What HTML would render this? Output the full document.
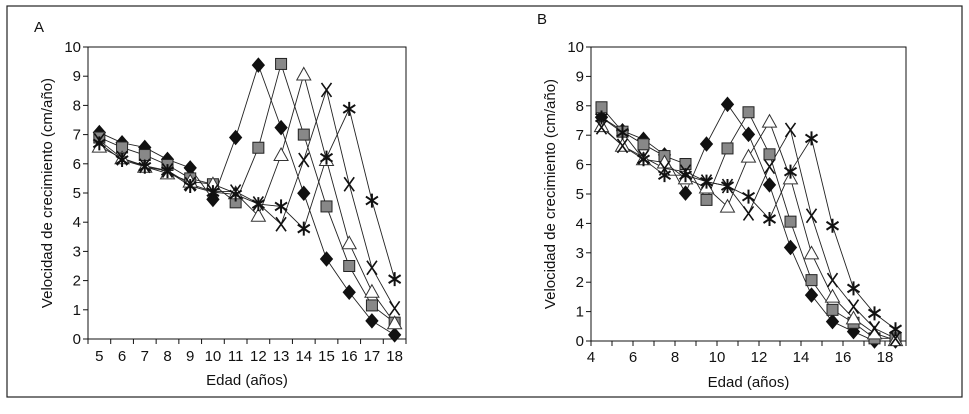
<!DOCTYPE html>
<html><head><meta charset="utf-8"><style>
body{margin:0;background:#fff;}
svg text{font-family:"Liberation Sans",Arial,sans-serif;fill:#111;}
</style></head><body>
<svg id="c" width="969" height="409" viewBox="0 0 969 409" xmlns="http://www.w3.org/2000/svg">
<rect x="7" y="6" width="955" height="391" fill="none" stroke="#222" stroke-width="1.2"/>
</svg>
<script>
const ticksY = [0,1,2,3,4,5,6,7,8,9,10];
const agesA = [5,6,7,8,9,10,11,12,13,14,15,16,17,18];
const diamondA = [7.07,6.72,6.56,6.15,5.86,4.78,6.9,9.38,7.24,4.99,2.74,1.6,0.62,0.14];
const squareA = [6.9,6.56,6.3,5.96,5.5,5.3,4.68,6.55,9.42,7.0,4.54,2.5,1.15,0.56];
const triangleA = [6.59,6.19,5.9,5.67,5.39,5.3,4.99,4.22,6.3,9.06,6.13,3.28,1.62,0.54];
const crossA = [6.8,6.19,5.93,5.77,5.3,5.05,5.05,4.64,3.93,6.13,8.53,5.3,2.44,1.05];
const starA = [6.7,6.13,5.9,5.75,5.24,5.03,4.95,4.62,4.54,3.78,6.21,7.88,4.74,2.05];
const agesB = [4.5,5.5,6.5,7.5,8.5,9.5,10.5,11.5,12.5,13.5,14.5,15.5,16.5,17.5,18.5];
const ticksXB = [4,6,8,10,12,14,16,18];
const diamondB = [7.61,7.15,6.86,6.33,5.03,6.7,8.05,7.03,5.31,3.18,1.56,0.66,0.32,0.0,0.0];
const squareB = [7.95,7.12,6.69,6.29,6.02,4.8,6.55,7.78,6.35,4.06,2.07,1.06,0.62,0.09,0.09];
const triangleB = [7.31,6.64,6.18,6.07,5.53,5.22,4.57,6.27,7.46,5.53,2.98,1.51,0.77,0.26,0.03];
const crossB = [7.27,6.64,6.25,5.87,5.76,5.42,5.27,4.34,5.93,7.18,4.26,2.07,1.17,0.43,0.09];
const starB = [7.6,7.09,6.18,5.64,5.64,5.42,5.27,4.91,4.15,5.76,6.89,3.92,1.79,0.94,0.4];

const svg = document.getElementById('c');
const NS = 'http://www.w3.org/2000/svg';
function mk(tag, attrs, parent){const e=document.createElementNS(NS,tag);for(const k in attrs)e.setAttribute(k,attrs[k]);(parent||svg).appendChild(e);return e;}

function marker(g, kind, x, y){
  let e;
  if(kind==='diamond'){e=mk('polygon',{points:`${x},${y-7} ${x+6},${y} ${x},${y+7} ${x-6},${y}`,fill:'#111',stroke:'#111'},g);}
  else if(kind==='square'){e=mk('rect',{x:x-5.5,y:y-5.5,width:11,height:11,fill:'#888',stroke:'#222','stroke-width':1},g);}
  else if(kind==='triangle'){e=mk('polygon',{points:`${x},${y-7} ${x+7},${y+5.5} ${x-7},${y+5.5}`,fill:'#fff',stroke:'#333','stroke-width':1},g);}
  else if(kind==='cross'){e=mk('path',{d:`M${x-5},${y-7}L${x+5},${y+7}M${x+5},${y-7}L${x-5},${y+7}`,stroke:'#111','stroke-width':1.6,fill:'none'},g);}
  else {e=mk('path',{d:`M${x},${y-7}L${x},${y+7}M${x-6},${y-4}L${x+6},${y+4}M${x+6},${y-4}L${x-6},${y+4}`,stroke:'#111','stroke-width':2,fill:'none'},g);}
  
  
}

function panel(opt){
  const {L,T,R,B,xs,series,xFn,letter,lx,ly,ylx} = opt;
  const yS = v => B - v*(B-T)/10;
  const g = mk('g',{});
  
  
  const lt = mk('text',{x:lx,y:ly,'font-size':15},g); lt.textContent=letter;
  
  
  const fr = mk('rect',{x:L,y:T,width:R-L,height:B-T,fill:'none',stroke:'#111','stroke-width':1},g);
  
  
  ticksY.forEach(v=>{
    const y=yS(v);
    mk('line',{x1:L-5,x2:L,y1:y,y2:y,stroke:'#111'},g);
    const t=mk('text',{x:L-7,y:y+5,'font-size':15,'text-anchor':'end'},g); t.textContent=v;
    
    
  });
  opt.xticks(g, yS);
  const yl = mk('text',{x:ylx,y:(T+B)/2,'font-size':15,'text-anchor':'middle',transform:`rotate(-90 ${ylx} ${(T+B)/2})`},g);
  yl.textContent='Velocidad de crecimiento (cm/año)';
  
  
  const xl = mk('text',{x:(L+R)/2,y:B+46,'font-size':15,'text-anchor':'middle'},g);
  xl.textContent='Edad (años)';
  
  
  series.forEach(([kind,vals])=>{
    const pts = vals.map((v,i)=>`${xFn(xs[i])},${yS(v)}`).join(' ');
    const pl = mk('polyline',{points:pts,fill:'none',stroke:'#222','stroke-width':0.9},g);
    
    
  });
  series.forEach(([kind,vals])=>{ vals.forEach((v,i)=>marker(g,kind,xFn(xs[i]),yS(v))); });
}

(function(){
  const L=88,R=406,T=47,B=339, bw=(R-L)/agesA.length;
  const xFn = a => L + (agesA.indexOf(a)+0.5)*bw;
  panel({L,T,R,B,xs:agesA,xFn,letter:'A',lx:34,ly:32,ylx:52,
    series:[['diamond',diamondA],['square',squareA],['triangle',triangleA],['cross',crossA],['star',starA]],
    xticks:(g)=>{
      for(let i=0;i<=agesA.length;i++) mk('line',{x1:L+i*bw,x2:L+i*bw,y1:B,y2:B+5,stroke:'#111'},g);
      agesA.forEach(a=>{const t=mk('text',{x:xFn(a),y:B+22,'font-size':15,'text-anchor':'middle'},g);t.textContent=a;
        
        });
    }});
})();

(function(){
  const L=591,R=906,T=47,B=341, x0=4, x1=19;
  const xFn = a => L + (a-x0)*(R-L)/(x1-x0);
  panel({L,T,R,B,xs:agesB,xFn,letter:'B',lx:537,ly:24,ylx:555,
    series:[['diamond',diamondB],['square',squareB],['triangle',triangleB],['cross',crossB],['star',starB]],
    xticks:(g)=>{
      for(let v=x0;v<=x1;v++) mk('line',{x1:xFn(v),x2:xFn(v),y1:B,y2:B+5,stroke:'#111'},g);
      ticksXB.forEach(a=>{const t=mk('text',{x:xFn(a),y:B+21,'font-size':15,'text-anchor':'middle'},g);t.textContent=a;
        
        });
    }});
})();
</script>
</body></html>
